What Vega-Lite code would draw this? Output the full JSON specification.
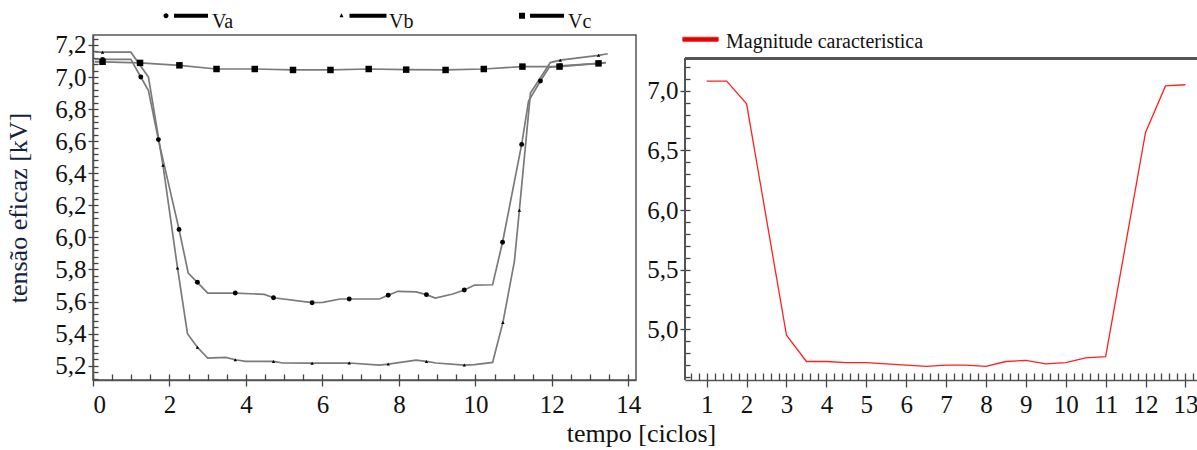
{
  "$schema": "https://vega.github.io/schema/vega-lite/v6.json",
  "background": "white",
  "padding": {"left": 5, "top": 11, "right": 0, "bottom": 0},
  "spacing": 4,
  "resolve": {"legend": {"shape": "independent", "color": "independent"}},
  "title": {"text": "tempo [ciclos]", "orient": "bottom", "anchor": "middle", "font": "Liberation Serif", "fontSize": 26, "fontWeight": "normal", "color": "#111", "offset": 3, "dx": 40},
  "datasets": {
    "L": [
      {"s":"Va","t":0.05,"v":7.11,"m":0},{"s":"Va","t":0.25,"v":7.11,"m":1},{"s":"Va","t":0.99,"v":7.11,"m":0},{"s":"Va","t":1.25,"v":7.0,"m":1},{"s":"Va","t":1.45,"v":6.915,"m":0},{"s":"Va","t":1.71,"v":6.61,"m":1},{"s":"Va","t":2.25,"v":6.05,"m":1},{"s":"Va","t":2.49,"v":5.778,"m":0},{"s":"Va","t":2.73,"v":5.72,"m":1},{"s":"Va","t":3.0,"v":5.653,"m":0},{"s":"Va","t":3.72,"v":5.653,"m":1},{"s":"Va","t":4.48,"v":5.645,"m":0},{"s":"Va","t":4.72,"v":5.624,"m":1},{"s":"Va","t":5.73,"v":5.593,"m":1},{"s":"Va","t":6.01,"v":5.595,"m":0},{"s":"Va","t":6.46,"v":5.616,"m":0},{"s":"Va","t":6.7,"v":5.616,"m":1},{"s":"Va","t":7.49,"v":5.616,"m":0},{"s":"Va","t":7.72,"v":5.639,"m":1},{"s":"Va","t":7.97,"v":5.664,"m":0},{"s":"Va","t":8.45,"v":5.66,"m":0},{"s":"Va","t":8.72,"v":5.643,"m":1},{"s":"Va","t":8.95,"v":5.622,"m":0},{"s":"Va","t":9.41,"v":5.647,"m":0},{"s":"Va","t":9.71,"v":5.672,"m":1},{"s":"Va","t":9.98,"v":5.703,"m":0},{"s":"Va","t":10.45,"v":5.705,"m":0},{"s":"Va","t":10.71,"v":5.97,"m":1},{"s":"Va","t":11.21,"v":6.58,"m":1},{"s":"Va","t":11.39,"v":6.85,"m":0},{"s":"Va","t":11.7,"v":6.975,"m":1},{"s":"Va","t":11.93,"v":7.06,"m":0},{"s":"Va","t":12.22,"v":7.07,"m":1},{"s":"Va","t":13.22,"v":7.085,"m":1},{"s":"Va","t":13.41,"v":7.09,"m":0},
      {"s":"Vb","t":0.05,"v":7.155,"m":0},{"s":"Vb","t":0.25,"v":7.155,"m":1},{"s":"Vb","t":0.99,"v":7.155,"m":0},{"s":"Vb","t":1.45,"v":7.0,"m":0},{"s":"Vb","t":1.83,"v":6.45,"m":1},{"s":"Vb","t":2.21,"v":5.81,"m":1},{"s":"Vb","t":2.47,"v":5.4,"m":0},{"s":"Vb","t":2.73,"v":5.315,"m":1},{"s":"Vb","t":3.0,"v":5.248,"m":0},{"s":"Vb","t":3.47,"v":5.252,"m":0},{"s":"Vb","t":3.72,"v":5.237,"m":1},{"s":"Vb","t":3.99,"v":5.227,"m":0},{"s":"Vb","t":4.72,"v":5.227,"m":1},{"s":"Vb","t":4.96,"v":5.217,"m":0},{"s":"Vb","t":5.73,"v":5.216,"m":1},{"s":"Vb","t":6.7,"v":5.217,"m":1},{"s":"Vb","t":7.49,"v":5.204,"m":0},{"s":"Vb","t":7.72,"v":5.21,"m":1},{"s":"Vb","t":8.45,"v":5.235,"m":0},{"s":"Vb","t":8.72,"v":5.227,"m":1},{"s":"Vb","t":8.97,"v":5.217,"m":0},{"s":"Vb","t":9.71,"v":5.204,"m":1},{"s":"Vb","t":9.98,"v":5.207,"m":0},{"s":"Vb","t":10.45,"v":5.221,"m":0},{"s":"Vb","t":10.72,"v":5.47,"m":1},{"s":"Vb","t":11.02,"v":5.85,"m":0},{"s":"Vb","t":11.15,"v":6.17,"m":1},{"s":"Vb","t":11.44,"v":6.9,"m":0},{"s":"Vb","t":11.96,"v":7.09,"m":0},{"s":"Vb","t":12.22,"v":7.105,"m":1},{"s":"Vb","t":13.22,"v":7.135,"m":1},{"s":"Vb","t":13.46,"v":7.145,"m":0},
      {"s":"Vc","t":0.05,"v":7.095,"m":0},{"s":"Vc","t":0.25,"v":7.095,"m":1},{"s":"Vc","t":1.23,"v":7.088,"m":1},{"s":"Vc","t":2.26,"v":7.073,"m":1},{"s":"Vc","t":3.23,"v":7.05,"m":1},{"s":"Vc","t":4.23,"v":7.05,"m":1},{"s":"Vc","t":5.23,"v":7.044,"m":1},{"s":"Vc","t":6.21,"v":7.044,"m":1},{"s":"Vc","t":7.21,"v":7.05,"m":1},{"s":"Vc","t":8.19,"v":7.046,"m":1},{"s":"Vc","t":9.22,"v":7.044,"m":1},{"s":"Vc","t":10.22,"v":7.05,"m":1},{"s":"Vc","t":11.23,"v":7.065,"m":1},{"s":"Vc","t":12.2,"v":7.065,"m":1},{"s":"Vc","t":13.22,"v":7.085,"m":1},{"s":"Vc","t":13.41,"v":7.09,"m":0}
    ],
    "R": [
      {"s":"Magnitude caracteristica","t":1.0,"v":7.08},{"s":"Magnitude caracteristica","t":1.5,"v":7.08},{"s":"Magnitude caracteristica","t":2.0,"v":6.89},{"s":"Magnitude caracteristica","t":3.0,"v":4.95},{"s":"Magnitude caracteristica","t":3.5,"v":4.73},{"s":"Magnitude caracteristica","t":4.0,"v":4.73},{"s":"Magnitude caracteristica","t":4.5,"v":4.72},{"s":"Magnitude caracteristica","t":5.0,"v":4.72},{"s":"Magnitude caracteristica","t":5.5,"v":4.71},{"s":"Magnitude caracteristica","t":6.0,"v":4.7},{"s":"Magnitude caracteristica","t":6.5,"v":4.69},{"s":"Magnitude caracteristica","t":7.0,"v":4.7},{"s":"Magnitude caracteristica","t":7.5,"v":4.7},{"s":"Magnitude caracteristica","t":8.0,"v":4.69},{"s":"Magnitude caracteristica","t":8.5,"v":4.73},{"s":"Magnitude caracteristica","t":9.0,"v":4.74},{"s":"Magnitude caracteristica","t":9.5,"v":4.71},{"s":"Magnitude caracteristica","t":10.0,"v":4.72},{"s":"Magnitude caracteristica","t":10.5,"v":4.76},{"s":"Magnitude caracteristica","t":11.0,"v":4.77},{"s":"Magnitude caracteristica","t":12.0,"v":6.65},{"s":"Magnitude caracteristica","t":12.5,"v":7.04},{"s":"Magnitude caracteristica","t":13.0,"v":7.05}
    ]
  },
  "hconcat": [
    {
      "width": 543,
      "height": 345,
      "data": {"name": "L"},
      "layer": [
        {
          "mark": {"type": "line", "stroke": "#7a7a7a", "strokeWidth": 1.7},
          "encoding": {
            "x": {"field": "t", "type": "quantitative", "scale": {"domain": [0, 14.2], "nice": false, "zero": false},
                  "axis": {"orient": "bottom", "values": [0,2,4,6,8,10,12,14], "tickSize": 6, "labelPadding": 6, "title": null, "format": "d"}},
            "y": {"field": "v", "type": "quantitative", "scale": {"domain": [5.111, 7.262], "nice": false, "zero": false},
                  "axis": {"orient": "left", "values": [5.2,5.4,5.6,5.8,6.0,6.2,6.4,6.6,6.8,7.0,7.2], "tickSize": 5, "labelPadding": 2,
                           "labelExpr": "replace(format(datum.value, '.1f'), '.', ',')", "title": "tensão eficaz [kV]", "titlePadding": 23}},
            "detail": {"field": "s"}
          }
        },
        {
          "transform": [{"filter": "datum.m == 1"}],
          "mark": {"type": "point", "filled": true, "color": "#000", "opacity": 1},
          "encoding": {
            "x": {"field": "t", "type": "quantitative", "axis": null},
            "y": {"field": "v", "type": "quantitative", "axis": null},
            "size": {"condition": [{"test": "datum.s === 'Vc'", "value": 42}, {"test": "datum.s === 'Vb'", "value": 12}], "value": 24},
            "shape": {"field": "s", "type": "nominal", "scale": {"domain": ["Va","Vb","Vc"], "range": ["circle","triangle-up","square"]}, "legend": null}
          }
        },
        {
          "transform": [{"filter": "datum.m == 9"}],
          "mark": {"type": "point", "filled": true, "color": "#000", "opacity": 1},
          "encoding": {
            "x": {"field": "t", "type": "quantitative", "axis": null},
            "y": {"field": "v", "type": "quantitative", "axis": null},
            "shape": {"field": "s", "type": "nominal",
                      "scale": {"domain": ["Va","Vb","Vc"], "range": [
                        "M-5.5,-1.26A0.5,0.5,0,1,0,-4.5,-1.26A0.5,0.5,0,1,0,-5.5,-1.26Z M-3.4,-1.66L3.4,-1.66L3.4,-0.86L-3.4,-0.86Z",
                        "M-5.3,-1.76L-4.9,-0.96L-5.7,-0.96Z M-3.7,-1.66L3.7,-1.66L3.7,-0.86L-3.7,-0.86Z",
                        "M-5.6,-1.86L-4.4,-1.86L-4.4,-0.66L-5.6,-0.66Z M-3.4,-1.66L3.4,-1.66L3.4,-0.86L-3.4,-0.86Z"]},
                      "legend": {"orient": "none", "legendX": 88, "legendY": -23, "direction": "horizontal", "title": null,
                                 "labelFont": "Liberation Serif", "labelFontSize": 20, "labelColor": "#111", "labelOffset": 11,
                                 "columnPadding": 102, "symbolSize": 100, "padding": 0,
                                 "encode": {"symbols": {"update": {"size": {"value": 100}, "fill": {"value": "#000"}, "stroke": {"value": "#000"}, "strokeWidth": {"value": 0}, "opacity": {"value": 1}, "fillOpacity": {"value": 1}}}}}}
          }
        },
        {
          "mark": {"type": "line", "strokeOpacity": 0},
          "encoding": {
            "x": {"field": "t", "type": "quantitative",
                  "axis": {"orient": "bottom", "values": [0,0.5,1,1.5,2,2.5,3,3.5,4,4.5,5,5.5,6,6.5,7,7.5,8,8.5,9,9.5,10,10.5,11,11.5,12,12.5,13,13.5,14], "tickSize": -6, "labels": false, "domain": false, "title": null}},
            "y": {"field": "v", "type": "quantitative",
                  "axis": {"orient": "left", "values": [5.12,5.16,5.2,5.24,5.28,5.32,5.36,5.4,5.44,5.48,5.52,5.56,5.6,5.64,5.68,5.72,5.76,5.8,5.84,5.88,5.92,5.96,6.0,6.04,6.08,6.12,6.16,6.2,6.24,6.28,6.32,6.36,6.4,6.44,6.48,6.52,6.56,6.6,6.64,6.68,6.72,6.76,6.8,6.84,6.88,6.92,6.96,7.0,7.04,7.08,7.12,7.16,7.2,7.24], "tickSize": -5, "labels": false, "domain": false, "title": null}},
            "detail": {"field": "s"}
          }
        }
      ],
      "resolve": {"axis": {"x": "independent", "y": "independent"}, "scale": {"shape": "independent"}}
    },
    {
      "width": 512,
      "height": 345,
      "view": {"stroke": null},
      "data": {"name": "R"},
      "layer": [
        {
          "mark": {"type": "line", "strokeWidth": 1.3},
          "encoding": {
            "x": {"field": "t", "type": "quantitative", "scale": {"domain": [0.456, 13.29], "nice": false, "zero": false},
                  "axis": {"orient": "bottom", "values": [1,2,3,4,5,6,7,8,9,10,11,12,13], "tickSize": 7, "labelPadding": 5, "title": null, "format": "d"}},
            "y": {"field": "v", "type": "quantitative", "scale": {"domain": [4.575, 7.467], "nice": false, "zero": false},
                  "axis": {"orient": "left", "values": [5.0,5.5,6.0,6.5,7.0], "tickSize": 5, "labelPadding": 2, "domain": false,
                           "labelExpr": "replace(format(datum.value, '.1f'), '.', ',')", "title": null}},
            "color": {"field": "s", "type": "nominal", "scale": {"range": ["#ff2020"]},
                      "legend": {"orient": "none", "legendX": 5.5, "legendY": -3, "title": null, "padding": 0, "labelLimit": 400,
                                 "labelFont": "Liberation Serif", "labelFontSize": 20, "labelColor": "#111", "labelOffset": 15.5, "symbolSize": 100,
                                 "encode": {"symbols": {"update": {
                                   "shape": {"value": "M-3.54,-0.94L3.54,-0.94L3.54,-0.14L-3.54,-0.14Z"},
                                   "size": {"value": 100}, "fill": {"value": "#e00000"}, "stroke": {"value": "#300000"}, "strokeWidth": {"value": 1}, "opacity": {"value": 1}, "fillOpacity": {"value": 1}, "strokeOpacity": {"value": 1}}}}}}
          }
        },
        {
          "mark": {"type": "line", "strokeOpacity": 0},
          "encoding": {
            "x": {"field": "t", "type": "quantitative",
                  "axis": {"orient": "bottom", "values": [0.6,0.8,1,1.2,1.4,1.6,1.8,2,2.2,2.4,2.6,2.8,3,3.2,3.4,3.6,3.8,4,4.2,4.4,4.6,4.8,5,5.2,5.4,5.6,5.8,6,6.2,6.4,6.6,6.8,7,7.2,7.4,7.6,7.8,8,8.2,8.4,8.6,8.8,9,9.2,9.4,9.6,9.8,10,10.2,10.4,10.6,10.8,11,11.2,11.4,11.6,11.8,12,12.2,12.4,12.6,12.8,13,13.2], "tickSize": -7, "labels": false, "domain": false, "title": null}},
            "y": {"field": "v", "type": "quantitative",
                  "axis": {"orient": "left", "values": [4.6,4.7,4.8,4.9,5,5.1,5.2,5.3,5.4,5.5,5.6,5.7,5.8,5.9,6,6.1,6.2,6.3,6.4,6.5,6.6,6.7,6.8,6.9,7,7.1,7.2], "tickSize": -5, "labels": false, "domain": false, "title": null}}
          }
        },
        {
          "mark": {"type": "rule", "color": "#555", "strokeWidth": 1.5},
          "encoding": {"y": {"datum": 7.27, "type": "quantitative", "axis": null}, "x": {"datum": 0.456, "type": "quantitative", "axis": null}, "x2": {"datum": 13.29}}
        },
        {
          "mark": {"type": "rule", "color": "#555", "strokeWidth": 1.5},
          "encoding": {"x": {"datum": 0.456, "type": "quantitative", "axis": null}, "y": {"datum": 4.575, "type": "quantitative", "axis": null}, "y2": {"datum": 7.27}}
        }
      ],
      "resolve": {"axis": {"x": "independent", "y": "independent"}}
    }
  ],
  "config": {
    "font": "Liberation Serif",
    "view": {"stroke": "#555", "strokeWidth": 1.5},
    "axis": {"labelFont": "Liberation Serif", "labelFontSize": 25, "labelColor": "#111", "tickColor": "#444", "tickWidth": 1.3,
             "domainColor": "#555", "domainWidth": 1.5, "grid": false, "titleFont": "Liberation Serif", "titleFontSize": 26,
             "titleFontWeight": "normal", "titleColor": "#15233f"},
    "legend": {"labelFont": "Liberation Serif"}
  }
}
